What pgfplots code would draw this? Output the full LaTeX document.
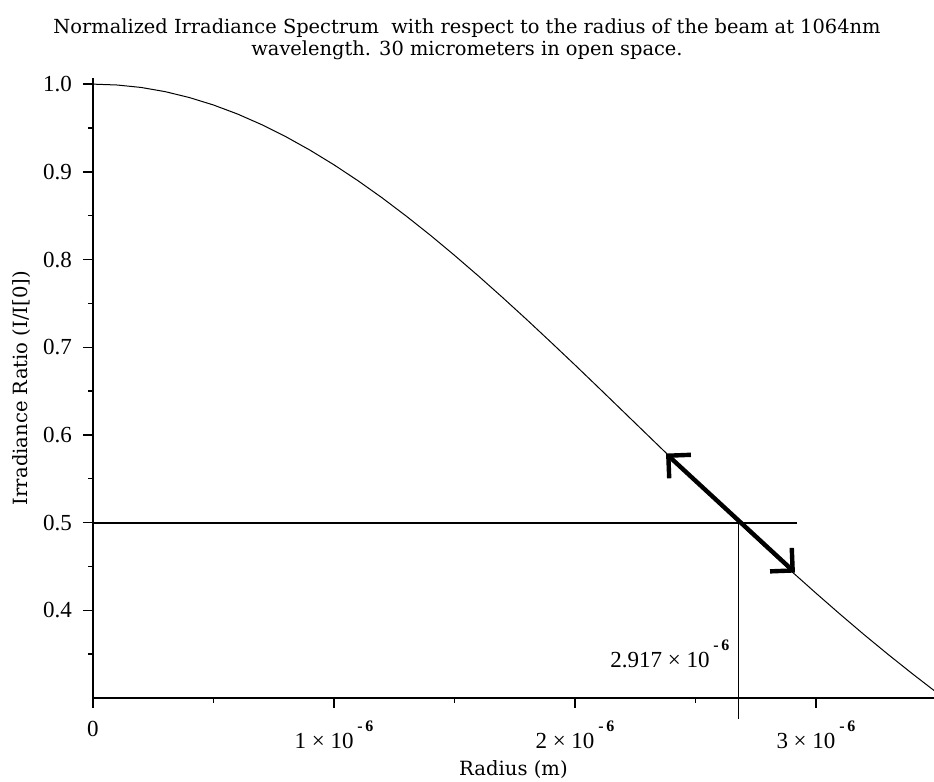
\documentclass[border=0pt]{standalone}
\usepackage{fontspec}
\setmainfont{Liberation Serif}
\newfontfamily\labelfont{DejaVu Serif}
\usepackage{pgfplots}
\pgfplotsset{compat=1.18}
\usetikzlibrary{arrows.meta}

% "a x 10^-b" with a raised, bold exponent
\newcommand{\sci}[2]{#1 × 10\,\raisebox{8.5pt}{\fontsize{8}{8}\selectfont\bfseries -\,#2}}

\begin{document}
\begin{tikzpicture}
\path[use as bounding box] (-46.5pt,-42pt) rectangle (420.5pt,349pt);
\begin{axis}[
  at={(0pt,0pt)}, anchor=south west,
  scale only axis, width=420.5pt, height=310pt,
  xmin=0, xmax=3.49e-6, ymin=0.3, ymax=1.007,
  scaled x ticks=false,
  axis x line=bottom, axis y line=left,
  axis line style={-, line width=1pt, black},
  tick align=outside,
  major tick length=5pt, minor tick length=2.5pt,
  every tick/.style={black, line width=0.7pt},
  xtick={0,1e-6,2e-6,3e-6},
  xticklabels={0,\sci{1}{6},\sci{2}{6},\sci{3}{6}},
  minor xtick={0.5e-6,1.5e-6,2.5e-6},
  ytick={0.4,0.5,0.6,0.7,0.8,0.9,1.0},
  yticklabels={0.4,0.5,0.6,0.7,0.8,0.9,1.0},
  minor ytick={0.35,0.45,0.55,0.65,0.75,0.85,0.95},
  tick label style={font=\fontsize{11.5}{12}\selectfont},
  xticklabel style={yshift=-3pt},
  yticklabel style={xshift=-2pt},
  clip=false,
]
% normalized Gaussian irradiance profile I/I0 versus radius
\addplot[black, line width=0.5pt] coordinates {
 (0,1.0000) (0.1e-6,0.9990) (0.2e-6,0.9962) (0.3e-6,0.9914) (0.4e-6,0.9847)
 (0.5e-6,0.9762) (0.6e-6,0.9659) (0.7e-6,0.9538) (0.8e-6,0.9401) (0.9e-6,0.9248)
 (1.0e-6,0.9080) (1.1e-6,0.8898) (1.2e-6,0.8703) (1.3e-6,0.8495) (1.4e-6,0.8277)
 (1.5e-6,0.8048) (1.6e-6,0.7811) (1.7e-6,0.7566) (1.8e-6,0.7315) (1.9e-6,0.7058)
 (2.0e-6,0.6798) (2.1e-6,0.6534) (2.2e-6,0.6268) (2.3e-6,0.6002) (2.4e-6,0.5736)
 (2.5e-6,0.5471) (2.6e-6,0.5208) (2.7e-6,0.4948) (2.8e-6,0.4693) (2.9e-6,0.4441)
 (3.0e-6,0.4196) (3.1e-6,0.3956) (3.2e-6,0.3722) (3.3e-6,0.3496) (3.4e-6,0.3277)
 (3.49e-6,0.3086)
};
% half-maximum level and its radius
\addplot[black, line width=1pt] coordinates {(0,0.5) (2.92e-6,0.5)};
\addplot[black, line width=0.5pt] coordinates {(2.68e-6,0.5) (2.68e-6,0.276)};
% double arrow along the slope
\addplot[black, line width=2.2pt,
  {Straight Barb[length=8pt,width=16pt]}-{Straight Barb[length=8pt,width=16pt]}]
  coordinates {(2.378e-6,0.5787) (2.913e-6,0.443)};
\path (axis cs:2.68e-6,0.3) ++(-4.5pt,15pt)
  node[anchor=base east, inner sep=0pt, font=\fontsize{11.5}{12}\selectfont] {\sci{2.917}{6}};
% axis titles
\path (rel axis cs:0.5,0) ++(0pt,-39pt)
  node[anchor=base, inner sep=0pt, font=\labelfont\fontsize{9.8}{10}\selectfont] {Radius (m)};
\path (rel axis cs:0,0.5) ++(-35.5pt,0pt)
  node[rotate=90, inner sep=0pt, font=\labelfont\fontsize{9.8}{10}\selectfont] {Irradiance Ratio (I/I[0])};
\end{axis}
\node[anchor=north, inner sep=0pt, align=center, font=\labelfont\fontsize{9.7}{11.2}\selectfont]
  at (187pt,340pt)
  {Normalized Irradiance Spectrum\ \ with respect to the radius of the beam at 1064nm\\
   wavelength. 30 micrometers in open space.};
\end{tikzpicture}
\end{document}
